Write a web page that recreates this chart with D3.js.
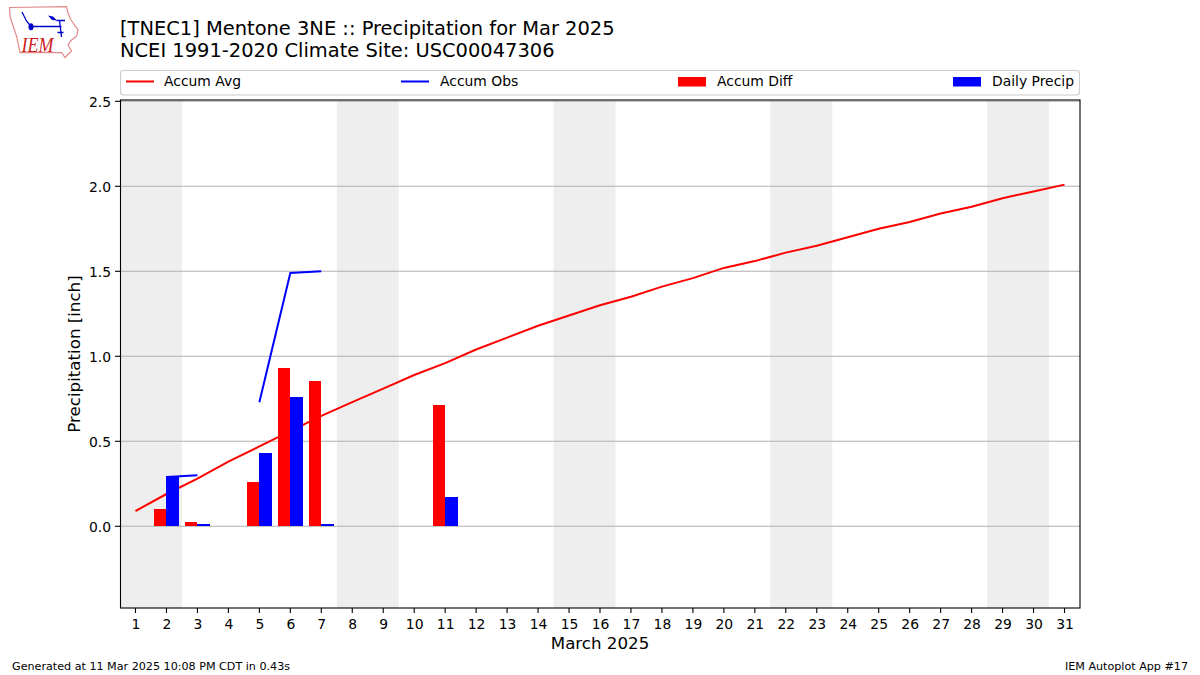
<!DOCTYPE html>
<html>
<head>
<meta charset="utf-8">
<script src="https://cdn.jsdelivr.net/npm/d3@7"></script>
<style>
  html, body { margin: 0; padding: 0; background: #fff; }
  svg { display: block; }
  text { font-family: "DejaVu Sans", sans-serif; fill: #000; }
</style>
</head>
<body>
<svg id="chart" width="1200" height="675"></svg>
<script>
const days = d3.range(1, 32);
const accumAvg = [0.09, 0.19, 0.28, 0.38, 0.47, 0.56, 0.65, 0.73, 0.81, 0.89, 0.96, 1.04, 1.11, 1.18, 1.24, 1.30,
  1.35, 1.41, 1.46, 1.52, 1.56, 1.61, 1.65, 1.70, 1.75, 1.79, 1.84, 1.88, 1.93, 1.97, 2.01];
const obsDays = [2, 3, 4, 5, 6, 7];
const accumObs = [0.29, 0.30, null, 0.73, 1.49, 1.50];
const barDays = [2, 3, 5, 6, 7, 11];
const accumDiff = [0.10, 0.02, 0.26, 0.93, 0.85, 0.71];
const dailyPrecip = [0.29, 0.01, 0.43, 0.76, 0.01, 0.17];
const weekends = [[0.5, 2.5], [7.5, 9.5], [14.5, 16.5], [21.5, 23.5], [28.5, 30.5]];
const yTicks = [0, 0.5, 1, 1.5, 2, 2.5];
const legendLabels = ['Accum Avg', 'Accum Obs', 'Accum Diff', 'Daily Precip'];

const plotLeft = 120, plotRight = 1080, plotTop = 100.3, plotBottom = 608;
const svg = d3.select('#chart');

const x = d3.scaleLinear().domain([0.5, 31.5]).range([plotLeft, plotRight]);
const y = d3.scaleLinear().domain([-0.4806, 2.5059]).range([plotBottom, plotTop]);

// weekend shading
svg.append('g').selectAll('rect')
  .data(weekends)
  .enter()
  .append('rect')
  .attr('x', d => x(d[0]))
  .attr('width', d => x(d[1]) - x(d[0]))
  .attr('y', plotTop)
  .attr('height', plotBottom - plotTop)
  .style('fill', '#eeeeee');

// grid
svg.append('g').selectAll('line')
  .data(yTicks)
  .enter()
  .append('line')
  .attr('x1', plotLeft)
  .attr('x2', plotRight)
  .attr('y1', d => y(d))
  .attr('y2', d => y(d))
  .style('stroke', '#b0b0b0')
  .style('stroke-width', 1.1);

// lines sit under the bars in the original
const avgLine = d3.line().x((d, i) => x(days[i])).y(d => y(d));
svg.append('path')
  .attr('d', avgLine(accumAvg))
  .style('fill', 'none')
  .style('stroke', '#ff0000')
  .style('stroke-width', 2);

// missing day 4 splits the observed line in two
const obsLine = d3.line()
  .defined(d => d !== null)
  .x((d, i) => x(obsDays[i]))
  .y(d => y(d));
svg.append('path')
  .attr('d', obsLine(accumObs))
  .style('fill', 'none')
  .style('stroke', '#0000ff')
  .style('stroke-width', 2);

// bar edges snapped to whole pixels
const barW = 0.4;
const barBase = Math.round(y(0));
svg.append('g').selectAll('rect')
  .data(accumDiff)
  .enter()
  .append('rect')
  .attr('x', (d, i) => Math.round(x(barDays[i] - barW)))
  .attr('width', (d, i) => Math.round(x(barDays[i])) - Math.round(x(barDays[i] - barW)))
  .attr('y', d => Math.floor(y(d)))
  .attr('height', d => barBase - Math.floor(y(d)))
  .attr('shape-rendering', 'crispEdges')
  .style('fill', '#ff0000');
svg.append('g').selectAll('rect')
  .data(dailyPrecip)
  .enter()
  .append('rect')
  .attr('x', (d, i) => Math.round(x(barDays[i])))
  .attr('width', (d, i) => Math.ceil(x(barDays[i] + barW)) - Math.round(x(barDays[i])))
  .attr('y', d => Math.floor(y(d)))
  .attr('height', d => barBase - Math.floor(y(d)))
  .attr('shape-rendering', 'crispEdges')
  .style('fill', '#0000ff');

// axes
const xAxis = d3.axisBottom(x).offset(0).tickValues(days).tickFormat(d3.format('d')).tickSize(5).tickPadding(6);
const yAxis = d3.axisLeft(y).offset(0).tickValues(yTicks).tickFormat(d3.format('.1f')).tickSize(5).tickPadding(4);
const gx = svg.append('g').attr('transform', `translate(0,${plotBottom})`).call(xAxis);
const gy = svg.append('g').attr('transform', `translate(${plotLeft},0)`).call(yAxis);
gx.select('.domain').remove();
gy.select('.domain').remove();
gx.selectAll('text').attr('dx', 0.5).style('font-size', '13.9px').style('font-family', '"DejaVu Sans"');
gy.selectAll('text').attr('y', 1).style('font-size', '13.9px').style('font-family', '"DejaVu Sans"');
gx.selectAll('line').style('stroke', '#000').style('stroke-width', 1.1);
gy.selectAll('line').style('stroke', '#000').style('stroke-width', 1.1);

svg.append('rect')
  .attr('x', plotLeft + 0.5)
  .attr('y', 100)
  .attr('width', plotRight - plotLeft - 0.5)
  .attr('height', plotBottom - 100)
  .style('fill', 'none')
  .style('stroke', '#000')
  .style('stroke-width', 1.1);

// axis titles
svg.append('text')
  .attr('x', 600)
  .attr('y', 649)
  .attr('text-anchor', 'middle')
  .style('font-size', '16.67px')
  .text('March 2025');
svg.append('text')
  .attr('transform', 'translate(79.5,354) rotate(-90)')
  .attr('text-anchor', 'middle')
  .style('font-size', '16.67px')
  .text('Precipitation [inch]');

// title
svg.append('text').attr('x', 120).attr('y', 35).style('font-size', '19.45px')
  .text('[TNEC1] Mentone 3NE :: Precipitation for Mar 2025');
svg.append('text').attr('x', 120).attr('y', 57).style('font-size', '19.45px')
  .text('NCEI 1991-2020 Climate Site: USC00047306');

// legend
svg.append('rect')
  .attr('x', 120.5).attr('y', 70.5)
  .attr('width', 959).attr('height', 24.5)
  .attr('rx', 3)
  .style('fill', '#fff')
  .style('stroke', '#cccccc')
  .style('stroke-width', 1.1);

const legendX = [126, 401, 678, 953];
const legendTextX = [38, 39, 39, 39];
const legendG = svg.append('g').selectAll('g')
  .data(legendLabels)
  .enter()
  .append('g')
  .attr('transform', (d, i) => `translate(${legendX[i]},81.5)`);
legendG.filter((d, i) => i < 2).append('line')
  .attr('x1', 0).attr('x2', 28)
  .style('stroke', (d, i) => i === 0 ? '#ff0000' : '#0000ff')
  .style('stroke-width', 2);
legendG.filter((d, i) => i >= 2).append('rect')
  .attr('x', 0).attr('y', -4.5).attr('width', 28).attr('height', 9.5)
  .style('fill', (d, i) => i === 0 ? '#ff0000' : '#0000ff');
legendG.append('text')
  .attr('x', (d, i) => legendTextX[i]).attr('y', 4.5)
  .style('font-size', '13.9px')
  .text(d => d);

// footer
svg.append('text').attr('x', 12).attr('y', 670).style('font-size', '11.15px')
  .text('Generated at 11 Mar 2025 10:08 PM CDT in 0.43s');
svg.append('text').attr('x', 1188).attr('y', 670).attr('text-anchor', 'end').style('font-size', '11.15px')
  .text('IEM Autoplot App #17');

// IEM logo
const logo = svg.append('g');
logo.append('path')
  .attr('d', 'M9.5,7.5 L66.5,6.7 L68,13 L70.7,19.5 L78,30 L76.7,36 L70.7,40.7 L68,45 L71.5,51 L65,57.5 L61.7,52.7 L20,52.7 L16.7,36.7 L10,16.7 Z')
  .style('fill', 'none')
  .style('stroke', '#e08a8a')
  .style('stroke-width', 1.2);
logo.append('path')
  .attr('d', 'M22,12 L26.5,21 L31,26.5 L61.5,26.5 M56.5,20.5 L65,20.5 M59.5,20.5 L61.5,37 M57.5,32.5 L63.5,32.5')
  .style('fill', 'none')
  .style('stroke', '#0000cc')
  .style('stroke-width', 1.3);
logo.append('path').attr('d', 'M48,15.5 L53,16.5 L57,20.5 L52,20 Z').style('fill', '#0000cc');
logo.append('ellipse').attr('cx', 31).attr('cy', 26.7).attr('rx', 2.5).attr('ry', 3.5).style('fill', '#0000cc');
logo.append('text')
  .attr('x', 21.5).attr('y', 51.6)
  .attr('textLength', 32)
  .attr('lengthAdjust', 'spacingAndGlyphs')
  .style('font-family', '"Liberation Serif"')
  .style('font-style', 'italic')
  .style('font-size', '22px')
  .style('fill', '#cc2222')
  .text('IEM');
</script>
</body>
</html>
